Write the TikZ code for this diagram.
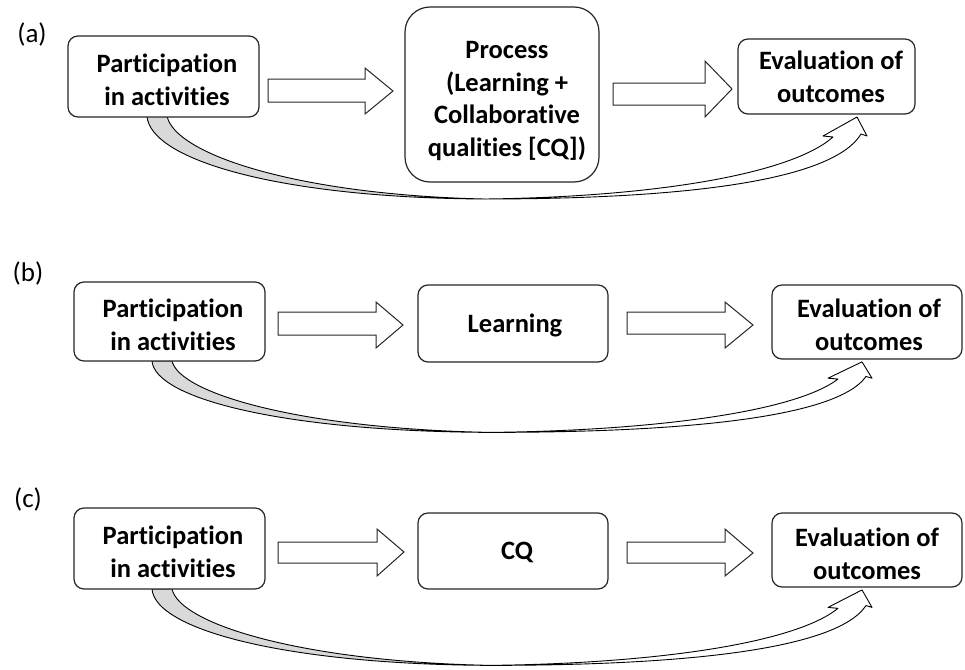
\documentclass[tikz,border=0pt]{standalone}
\usepackage{fontspec}
\setmainfont{Carlito}[Ligatures={NoCommon}]
\tikzset{
  box/.style={draw=black!85, line width=1.2pt, rounded corners=10pt, fill=white, inner sep=0pt},
  txt/.style={font=\fontsize{26.5}{32.5}\selectfont\bfseries, align=center, inner sep=0pt},
  lbl/.style={font=\fontsize{27}{30}\selectfont, inner sep=0pt},
  blk/.style={draw=black!85, line width=1pt, fill=white, line join=miter},
  cur/.style={draw=black, line width=0.9pt, line join=round}
}
\newcommand\twistarrow[3]{%
\begin{scope}[shift={(#1,#2)}, yscale=#3]
\draw[cur, fill=gray!30] (0,0) .. controls (3,44) and (133,82) .. (338,83)
   .. controls (153,79) and (28,39) .. (20,0) -- cycle;
\draw[cur, fill=white] (338,83) .. controls (503,81) and (643,59) .. (686,21)
   -- (676,20) -- (710,1) -- (720,20) -- (714,18)
   .. controls (683,69) and (513,83) .. (338,83) -- cycle;
\end{scope}}
\begin{document}
\begin{tikzpicture}[x=1pt,y=-1pt]
\useasboundingbox (0,0) rectangle (965,669);
% ---------- (a) ----------
\node[lbl] (la) at (32,34) {(a)};
\twistarrow{147}{116}{1}
\node[box, minimum width=191pt, minimum height=81pt] (pa) at (163.5,76.5) {};
\node[box, rounded corners=25pt, minimum width=194pt, minimum height=175pt] (proca) at (502,94.5) {};
\node[box, minimum width=177pt, minimum height=75pt] (ea) at (826.5,76.5) {};
\node[txt] (pat) at (167,80) {Participation\\in activities};
\node[txt] (procat) at (507,101) {Process\\(Learning +\\Collaborative\\qualities [CQ])};
\node[txt] (eat) at (831,77) {Evaluation of\\outcomes};
\draw[blk] (268,79) -- (365,79) -- (365,68) -- (393,91) -- (365,114) -- (365,102) -- (268,102) -- cycle;
\draw[blk] (613,83) -- (705,83) -- (705,61) -- (732,89) -- (705,117) -- (705,105) -- (613,105) -- cycle;
% ---------- (b) ----------
\node[lbl] (lb) at (28,273) {(b)};
\twistarrow{152}{361}{0.86}
\node[box, minimum width=191pt, minimum height=79pt] (pb) at (169.5,321.5) {};
\node[box, minimum width=190pt, minimum height=77pt] (lrn) at (513,323.5) {};
\node[box, minimum width=190pt, minimum height=74pt] (eb) at (867,322) {};
\node[txt] (pbt) at (173,325) {Participation\\in activities};
\node[txt] (lrnt) at (515,325) {Learning};
\node[txt] (ebt) at (869,325) {Evaluation of\\outcomes};
\draw[blk] (278,312) -- (376,312) -- (376,302) -- (403,325) -- (376,348) -- (376,335) -- (278,335) -- cycle;
\draw[blk] (627,312) -- (725,312) -- (725,302) -- (753,325) -- (725,348) -- (725,334) -- (627,334) -- cycle;
% ---------- (c) ----------
\node[lbl] (lc) at (28,499) {(c)};
\twistarrow{152}{589}{0.92}
\node[box, minimum width=191pt, minimum height=81pt] (pc) at (169.5,548.5) {};
\node[box, minimum width=190pt, minimum height=76pt] (cq) at (513,551) {};
\node[box, minimum width=190pt, minimum height=74pt] (ec) at (867,550) {};
\node[txt] (pct) at (173,552) {Participation\\in activities};
\node[txt] (cqt) at (517,552) {CQ};
\node[txt] (ect) at (867,554) {Evaluation of\\outcomes};
\draw[blk] (278,542) -- (377,542) -- (377,529) -- (404,552) -- (377,576) -- (377,563) -- (278,563) -- cycle;
\draw[blk] (627,542) -- (725,542) -- (725,529) -- (753,553) -- (725,576) -- (725,563) -- (627,563) -- cycle;
\end{tikzpicture}
\end{document}
